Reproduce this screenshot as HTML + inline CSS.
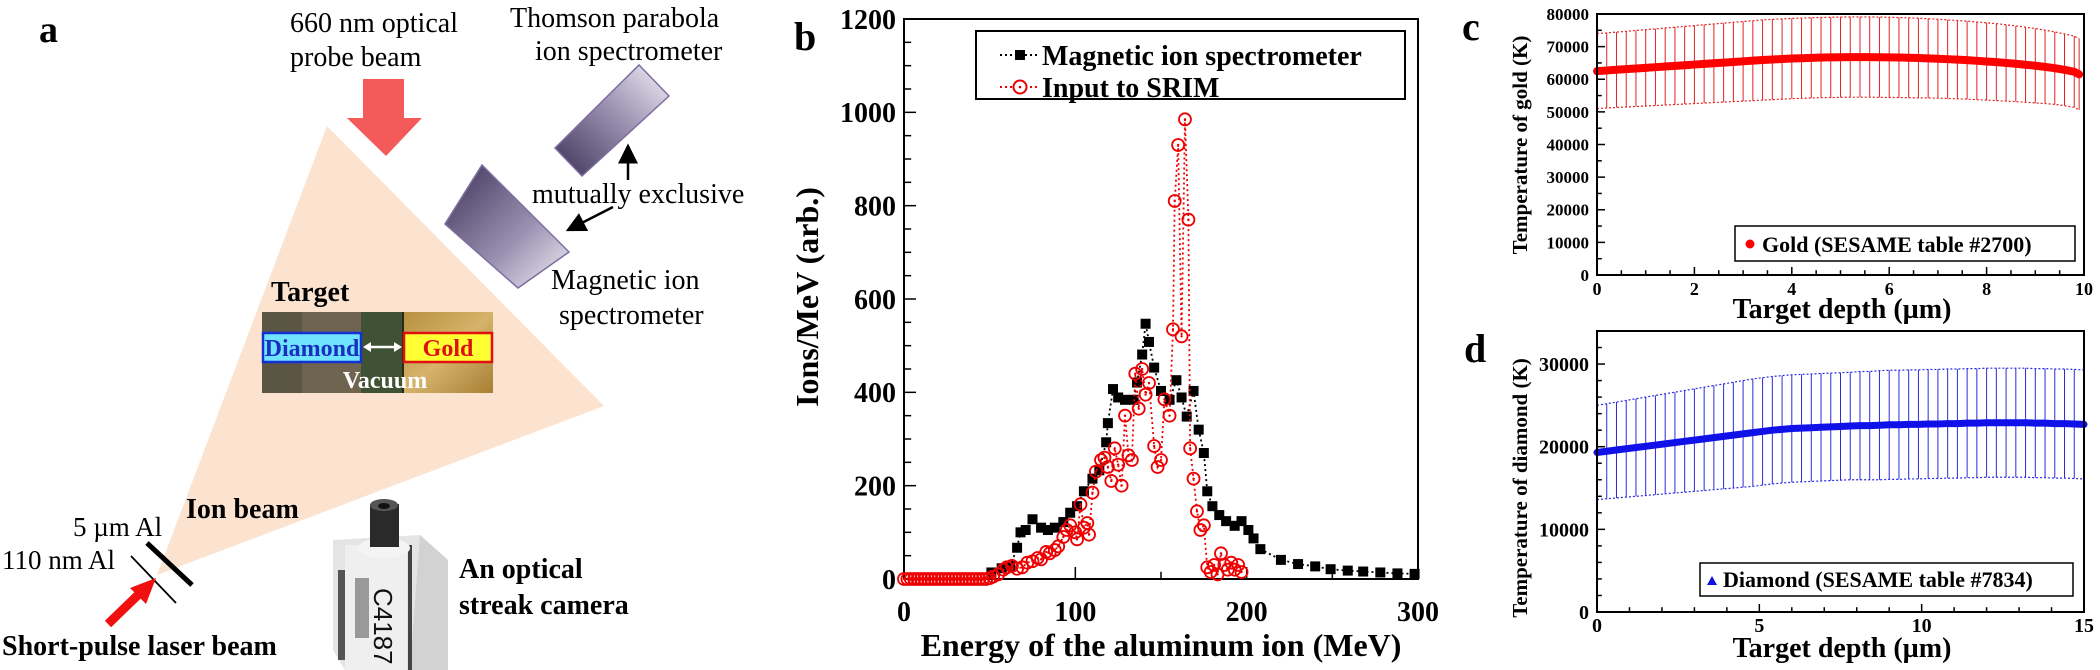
<!DOCTYPE html>
<html><head><meta charset="utf-8">
<style>
html,body{margin:0;padding:0;background:#fff;}
svg{display:block;font-family:"Liberation Serif",serif;}
svg text{font-family:"Liberation Serif",serif;}
.b{font-weight:bold;}
</style></head>
<body>
<svg id="fig" width="2100" height="670" viewBox="0 0 2100 670" xmlns="http://www.w3.org/2000/svg" font-family="Liberation Serif, serif">
<defs>
<linearGradient id="boxg" x1="0" y1="0" x2="1" y2="1">
<stop offset="0" stop-color="#3d3258"/><stop offset="0.6" stop-color="#9c93b3"/><stop offset="1" stop-color="#f3f1f7"/></linearGradient>
<linearGradient id="boxg2" x1="0" y1="1" x2="1" y2="0">
<stop offset="0" stop-color="#3d3258"/><stop offset="0.6" stop-color="#a49cb9"/><stop offset="1" stop-color="#f3f1f7"/></linearGradient>
<linearGradient id="goldg" x1="0" y1="0" x2="1" y2="1">
<stop offset="0" stop-color="#b8913f"/><stop offset="0.5" stop-color="#d6b36a"/><stop offset="1" stop-color="#a77f35"/></linearGradient>
<marker id="ah" markerWidth="8" markerHeight="8" refX="7" refY="4" orient="auto"><path d="M0,0 L8,4 L0,8 z" fill="#000"/></marker>
</defs>

<!-- Panel a: schematic -->
<g>
<text x="39" y="42" font-size="38" class="b">a</text>
<polygon points="157,575 327,126 604,406" fill="#fbe3cf"/>
<polygon points="363,79 404,79 404,118 422,118 386,156 347,118 363,118" fill="#f45a5a"/>
<text x="290" y="32" font-size="28">660 nm optical</text>
<text x="290" y="66" font-size="28">probe beam</text>
<text x="510" y="27" font-size="28">Thomson parabola</text>
<text x="535" y="60" font-size="28">ion spectrometer</text>
<polygon points="555,148 639,65 669,96 582,176" fill="url(#boxg2)" stroke="#7d6fa0" stroke-width="1.5"/>
<polygon points="482,165 569,252 518,288 445,224" fill="url(#boxg)" stroke="#7d6fa0" stroke-width="1.5"/>
<line x1="628" y1="180" x2="628" y2="146" stroke="#000" stroke-width="2.5" marker-end="url(#ah)"/>
<line x1="613" y1="207" x2="568" y2="230" stroke="#000" stroke-width="2.5" marker-end="url(#ah)"/>
<text x="532" y="203" font-size="28">mutually  exclusive</text>
<text x="551" y="289" font-size="28">Magnetic ion</text>
<text x="559" y="324" font-size="28">spectrometer</text>
<text x="271" y="301" font-size="28" class="b">Target</text>
<g>
<rect x="262" y="312" width="99" height="81" fill="#6e6450"/>
<rect x="262" y="312" width="40" height="81" fill="#5b5545"/>
<rect x="361" y="312" width="43" height="81" fill="#3f5233"/>
<rect x="404" y="312" width="89" height="81" fill="url(#goldg)"/>
<line x1="403" y1="312" x2="403" y2="393" stroke="#2a2a1a" stroke-width="2"/>
</g>
<rect x="263" y="333" width="98" height="29" fill="#70e3ff" stroke="#1530d0" stroke-width="2.5"/>
<text x="312" y="356" font-size="24" class="b" fill="#1830c0" text-anchor="middle">Diamond</text>
<rect x="404" y="333" width="88" height="29" fill="#ffff33" stroke="#e01010" stroke-width="2.5"/>
<text x="448" y="356" font-size="24" class="b" fill="#dd1010" text-anchor="middle">Gold</text>
<line x1="366" y1="347" x2="399" y2="347" stroke="#fff" stroke-width="2.5"/>
<polygon points="363,347 371,342 371,352" fill="#fff"/><polygon points="402,347 394,342 394,352" fill="#fff"/>
<text x="385" y="388" font-size="24" class="b" fill="#fff" text-anchor="middle">Vacuum</text>
<text x="186" y="518" font-size="28" class="b">Ion beam</text>
<text x="73" y="536" font-size="27">5 µm Al</text>
<text x="2" y="569" font-size="27">110 nm Al</text>
<line x1="147" y1="543" x2="192" y2="585" stroke="#000" stroke-width="5"/>
<line x1="131" y1="556" x2="176" y2="603" stroke="#000" stroke-width="1.8"/>
<line x1="108" y1="624" x2="140" y2="593" stroke="#f01010" stroke-width="9"/>
<polygon points="156,578 130,588 146,604" fill="#f01010"/>
<text x="2" y="655" font-size="28" class="b">Short-pulse laser beam</text>
<g>
<polygon points="333,540 420,535 448,560 448,670 345,670 333,650" fill="#e4e4e4"/>
<polygon points="420,535 448,560 448,670 410,670" fill="#d2d2d2"/>
<rect x="345" y="545" width="62" height="125" fill="#efefef"/>
<rect x="338" y="570" width="7" height="90" fill="#555"/>
<rect x="408" y="545" width="4" height="125" fill="#444"/>
<rect x="355" y="578" width="14" height="60" fill="#999"/>
<ellipse cx="384" cy="548" rx="26" ry="10" fill="#f4f4f4"/>
<rect x="370" y="504" width="29" height="43" fill="#2a2a2a"/>
<ellipse cx="384" cy="505" rx="14" ry="6" fill="#555"/>
<ellipse cx="384" cy="506" rx="6" ry="3" fill="#111"/>
<text x="0" y="0" font-size="26" style="font-family:'Liberation Sans',sans-serif" transform="translate(374,588) rotate(90)" fill="#111">C4187</text>
</g>
<text x="459" y="578" font-size="28" class="b">An optical</text>
<text x="459" y="614" font-size="28" class="b">streak camera</text>
</g>

<g id="pb"></g>
<g id="pc"></g>
<g id="pd"></g>
</svg>
<script>
// ---- Panel b data ----
const magE = [51,57,62,66,68,71,75,80,84,88,93,97,101,105,110,114,118,119,122,125,129,134,136,139,141,143,146,150,155,159,162,165,169,172,175,177,180,184,188,193,197,201,204,208,220,230,240,249,259,268,278,288,298];
const magV = [14,23,27,67,100,105,128,110,105,110,122,142,156,188,215,233,293,334,407,389,384,384,421,481,547,508,453,403,384,426,389,348,403,320,270,188,156,137,124,114,124,105,87,64,41,32,27,21,18,16,14,12,11];
const srimE = [0,2,4,6,8,10,12,14,16,18,20,22,24,26,28,30,32,34,36,38,40,42,44,46,48,50,52,55,58,60,63,66,69,72,75,78,80,83,85,88,90,93,95,97,100,101,103,105,107,108,110,112,115,117,119,121,123,125,127,129,131,133,135,137,139,141,143,146,148,150,152,155,157,158,160,162,164,166,167,169,171,173,175,177,179,181,183,185,187,189,191,193,195,197];
const srimV = [0,0,0,0,0,0,0,0,0,0,0,0,0,0,0,0,0,0,0,0,0,0,0,0,0,2,5,10,20,25,28,22,25,35,38,45,42,58,55,62,70,90,105,115,100,85,160,110,120,95,185,230,255,260,240,210,280,245,200,350,265,255,440,365,450,395,420,285,240,255,385,350,535,810,930,520,985,770,280,215,145,105,115,25,15,30,10,55,30,20,35,20,30,15];
const bXTicks = [0,100,200,300];
const bYTicks = [0,200,400,600,800,1000,1200];
// ---- Panel c data ----
const goldDepth = [0,0.2,0.4,0.6,0.8,1,1.2,1.4,1.6,1.8,2,2.2,2.4,2.6,2.8,3,3.2,3.4,3.6,3.8,4,4.2,4.4,4.6,4.8,5,5.2,5.4,5.6,5.8,6,6.2,6.4,6.6,6.8,7,7.2,7.4,7.6,7.8,8,8.2,8.4,8.6,8.8,9,9.2,9.4,9.6,9.8,9.9];
const goldT = [62500,62700,62900,63100,63300,63500,63700,63900,64100,64300,64500,64700,64900,65100,65300,65500,65700,65900,66050,66200,66350,66450,66550,66650,66700,66750,66800,66800,66800,66750,66700,66650,66600,66500,66400,66300,66150,66000,65850,65650,65450,65250,65000,64750,64450,64150,63800,63400,62900,62300,61500];
const goldErr = [11500,11500,11550,11600,11650,11700,11750,11800,11850,11900,11950,12000,12050,12100,12150,12200,12250,12300,12300,12300,12300,12300,12300,12300,12300,12300,12300,12300,12300,12300,12300,12250,12250,12200,12150,12100,12050,12000,11950,11900,11850,11800,11700,11600,11500,11400,11250,11100,11000,10900,10900];
const cXTicks = [0,2,4,6,8,10];
const cYTicks = [0,10000,20000,30000,40000,50000,60000,70000,80000];
// ---- Panel d data ----
const diaDepth = [0,0.3,0.6,0.9,1.2,1.5,1.8,2.1,2.4,2.7,3,3.3,3.6,3.9,4.2,4.5,4.8,5.1,5.4,5.7,6,6.3,6.6,6.9,7.2,7.5,7.8,8.1,8.4,8.7,9,9.3,9.6,9.9,10.2,10.5,10.8,11.1,11.4,11.7,12,12.3,12.6,12.9,13.2,13.5,13.8,14.1,14.4,14.7,15];
const diaT = [19300,19450,19600,19750,19900,20050,20200,20350,20500,20650,20800,20950,21100,21250,21400,21550,21700,21850,22000,22100,22200,22250,22300,22350,22400,22450,22500,22550,22550,22600,22650,22650,22700,22700,22750,22750,22800,22800,22850,22850,22900,22900,22900,22900,22900,22850,22850,22800,22800,22750,22700];
const diaErr = [5700,5750,5800,5850,5900,5950,6000,6050,6100,6150,6200,6250,6300,6350,6400,6450,6500,6500,6500,6500,6500,6500,6500,6500,6500,6500,6500,6550,6550,6600,6600,6600,6600,6600,6600,6600,6600,6600,6600,6600,6600,6600,6600,6600,6600,6600,6600,6600,6600,6600,6600];
const dXTicks = [0,5,10,15];
const dYTicks = [0,10000,20000,30000];

const NS = "http://www.w3.org/2000/svg";
function mk(parent, tag, attrs, txt){
  const e = document.createElementNS(NS, tag);
  for (const k in attrs) e.setAttribute(k, attrs[k]);
  if (txt !== undefined) e.textContent = txt;
  parent.appendChild(e); return e;
}
function axesBox(g, x0, x1, y0, y1, xs, ys, xMajor, xMinor, yMajor, yMinor, xMax, yMax, fs, fsx, tickLen, xlabDy){
  const fr = mk(g,'rect',{x:x0,y:y1,width:x1-x0,height:y0-y1,fill:'none',stroke:'#000','stroke-width':2});
  
  
  for (let v=0; v<=xMax+1e-9; v+=xMinor){
    const isMaj = xMajor.some(m=>Math.abs(m-v)<1e-6);
    const t = mk(g,'line',{x1:xs(v),x2:xs(v),y1:y0,y2:y0-(isMaj?tickLen:tickLen*0.6),stroke:'#000','stroke-width':1.5});
    
    
  }
  for (let v=0; v<=yMax+1e-9; v+=yMinor){
    const isMaj = yMajor.some(m=>Math.abs(m-v)<1e-6);
    const t = mk(g,'line',{x1:x0,x2:x0+(isMaj?tickLen:tickLen*0.6),y1:ys(v),y2:ys(v),stroke:'#000','stroke-width':1.5});
    
    
  }
  xMajor.forEach(v=>{
    const t = mk(g,'text',{x:xs(v),y:y0+xlabDy,'font-size':fsx,'font-weight':'bold','text-anchor':'middle'},String(v));
    
    
  });
  yMajor.forEach(v=>{
    const t = mk(g,'text',{x:x0-8,y:ys(v)+fs*0.35,'font-size':fs,'font-weight':'bold','text-anchor':'end'},String(v));
    
    
  });
}

// ===== Panel b =====
(function(){
  const g = document.getElementById('pb');
  const x0=904,x1=1418,y0=579,y1=19;
  const xb = v => x0 + v*(x1-x0)/300;
  const yb = v => y0 - v*(y0-y1)/1200;
  axesBox(g,x0,x1,y0,y1,xb,yb,bXTicks,50,bYTicks,50,300,1200,28,28,12,42);
  const lb = mk(g,'text',{x:794,y:50,'font-size':40,'font-weight':'bold'},'b');
  
  
  const xt = mk(g,'text',{x:1161,y:656,'font-size':32,'font-weight':'bold','text-anchor':'middle'},'Energy of the aluminum ion (MeV)');
  
  
  const yt = mk(g,'text',{x:0,y:0,'font-size':32,'font-weight':'bold','text-anchor':'middle',transform:'translate(818,297) rotate(-90)'},'Ions/MeV (arb.)');
  
  
  const mp = mk(g,'polyline',{points:magE.map((e,i)=>xb(e)+','+yb(magV[i])).join(' '),fill:'none',stroke:'#000','stroke-width':1.8,'stroke-dasharray':'2,3'});
  
  
  magE.forEach((e,i)=>{
    const r = mk(g,'rect',{x:xb(e)-5,y:yb(magV[i])-5,width:10,height:10,fill:'#000'});
    
    
  });
  const sp = mk(g,'polyline',{points:srimE.map((e,i)=>xb(e)+','+yb(srimV[i])).join(' '),fill:'none',stroke:'#e00','stroke-width':1.8,'stroke-dasharray':'2,3'});
  
  
  srimE.forEach((e,i)=>{
    const c = mk(g,'circle',{cx:xb(e),cy:yb(srimV[i]),r:6,fill:'none',stroke:'#e00','stroke-width':1.8});
    
    
    const d = mk(g,'circle',{cx:xb(e),cy:yb(srimV[i]),r:1.2,fill:'#e00'});
    
    
  });
  const lg = mk(g,'g',{});
  
  
  mk(lg,'rect',{x:976,y:31,width:429,height:68,fill:'#fff',stroke:'#000','stroke-width':2});
  mk(lg,'line',{x1:1000,x2:1040,y1:55,y2:55,stroke:'#000','stroke-width':2,'stroke-dasharray':'2,3'});
  mk(lg,'rect',{x:1015,y:50,width:10,height:10,fill:'#000'});
  const t1 = mk(lg,'text',{x:1042,y:65,'font-size':28,'font-weight':'bold'},'Magnetic ion spectrometer');
  
  
  mk(lg,'line',{x1:1000,x2:1040,y1:87,y2:87,stroke:'#e00','stroke-width':2,'stroke-dasharray':'2,3'});
  mk(lg,'circle',{cx:1020,cy:87,r:6.5,fill:'#fff',stroke:'#e00','stroke-width':2});
  mk(lg,'circle',{cx:1020,cy:87,r:1.3,fill:'#e00'});
  const t2 = mk(lg,'text',{x:1042,y:97,'font-size':28,'font-weight':'bold'},'Input to SRIM');
  
  
})();

// ===== Panel c =====
(function(){
  const g = document.getElementById('pc');
  const x0=1597,x1=2084,y0=275,y1=14;
  const xc = v => x0 + v*(x1-x0)/10;
  const yc = v => y0 - v*(y0-y1)/80000;
  goldDepth.forEach((d,i)=>{
    const l = mk(g,'line',{x1:xc(d),x2:xc(d),y1:yc(goldT[i]-goldErr[i]),y2:yc(goldT[i]+goldErr[i]),stroke:'#e42020','stroke-width':1});
    
    
  });
  const up = mk(g,'polyline',{points:goldDepth.map((d,i)=>xc(d)+','+yc(goldT[i]+goldErr[i])).join(' '),fill:'none',stroke:'#e42020','stroke-width':1.2,'stroke-dasharray':'2,2'});
  
  
  const lo = mk(g,'polyline',{points:goldDepth.map((d,i)=>xc(d)+','+yc(goldT[i]-goldErr[i])).join(' '),fill:'none',stroke:'#e42020','stroke-width':1.2,'stroke-dasharray':'2,2'});
  
  
  const ml = mk(g,'polyline',{points:goldDepth.map((d,i)=>xc(d)+','+yc(goldT[i])).join(' '),fill:'none',stroke:'#f00','stroke-width':8,'stroke-linecap':'round'});
  
  
  axesBox(g,x0,x1,y0,y1,xc,yc,cXTicks,0.5,cYTicks,5000,10,80000,17,18,8,20);
  const lb = mk(g,'text',{x:1462,y:40,'font-size':40,'font-weight':'bold'},'c');
  
  
  const xt = mk(g,'text',{x:1842,y:318,'font-size':28,'font-weight':'bold','text-anchor':'middle'},'Target depth (µm)');
  
  
  const yt = mk(g,'text',{x:0,y:0,'font-size':21,'font-weight':'bold','text-anchor':'middle',transform:'translate(1527,145) rotate(-90)'},'Temperature of gold (K)');
  
  
  const lg = mk(g,'g',{});
  
  
  mk(lg,'rect',{x:1735,y:226,width:340,height:35,fill:'#fff',stroke:'#000','stroke-width':1.5});
  mk(lg,'circle',{cx:1750,cy:244,r:4.5,fill:'#f00'});
  const t = mk(lg,'text',{x:1762,y:252,'font-size':22,'font-weight':'bold'},'Gold (SESAME table #2700)');
  
  
})();

// ===== Panel d =====
(function(){
  const g = document.getElementById('pd');
  const x0=1597,x1=2084,y0=612,y1=331;
  const xd = v => x0 + v*(x1-x0)/15;
  const yd = v => y0 - v*(y0-y1)/34000;
  diaDepth.forEach((d,i)=>{
    const l = mk(g,'line',{x1:xd(d),x2:xd(d),y1:yd(diaT[i]-diaErr[i]),y2:yd(diaT[i]+diaErr[i]),stroke:'#2a2ae0','stroke-width':1});
    
    
  });
  const up = mk(g,'polyline',{points:diaDepth.map((d,i)=>xd(d)+','+yd(diaT[i]+diaErr[i])).join(' '),fill:'none',stroke:'#2a2ae0','stroke-width':1.2,'stroke-dasharray':'2,2'});
  
  
  const lo = mk(g,'polyline',{points:diaDepth.map((d,i)=>xd(d)+','+yd(diaT[i]-diaErr[i])).join(' '),fill:'none',stroke:'#2a2ae0','stroke-width':1.2,'stroke-dasharray':'2,2'});
  
  
  const ml = mk(g,'polyline',{points:diaDepth.map((d,i)=>xd(d)+','+yd(diaT[i])).join(' '),fill:'none',stroke:'#1010e8','stroke-width':7,'stroke-linecap':'round'});
  
  
  axesBox(g,x0,x1,y0,y1,xd,yd,dXTicks,1,dYTicks,2000,15,34000,20,20,8,20);
  const lb = mk(g,'text',{x:1464,y:362,'font-size':40,'font-weight':'bold'},'d');
  
  
  const xt = mk(g,'text',{x:1842,y:657,'font-size':28,'font-weight':'bold','text-anchor':'middle'},'Target depth (µm)');
  
  
  const yt = mk(g,'text',{x:0,y:0,'font-size':21,'font-weight':'bold','text-anchor':'middle',transform:'translate(1527,488) rotate(-90)'},'Temperature of diamond (K)');
  
  
  const lg = mk(g,'g',{});
  
  
  mk(lg,'rect',{x:1700,y:563,width:373,height:33,fill:'#fff',stroke:'#000','stroke-width':1.5});
  mk(lg,'polygon',{points:'1712,576 1717,585 1707,585',fill:'#1010e8'});
  const t = mk(lg,'text',{x:1723,y:587,'font-size':22,'font-weight':'bold'},'Diamond (SESAME table #7834)');
  
  
})();
</script>
</body></html>
